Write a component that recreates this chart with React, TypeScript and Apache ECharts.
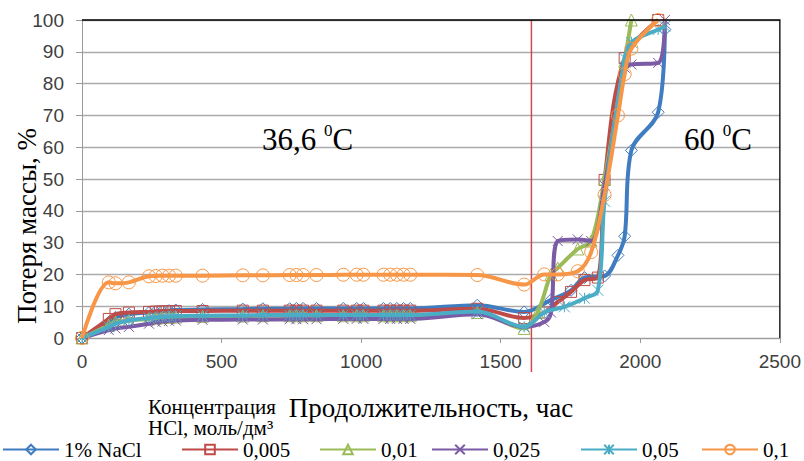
import React, { useEffect, useRef } from 'react';
import * as echarts from 'echarts';

// Shared measurement hours for the 36.6 °C stage
const earlyHours = [0, 96, 120, 168, 240, 264, 288, 312, 336, 432, 576, 648, 744, 768, 792, 840, 936, 984, 1008, 1080, 1104, 1128, 1152, 1176, 1416];

// 1% NaCl
const naclEarly = [0, 5, 6.5, 7.5, 8, 8.3, 8.5, 8.6, 8.8, 9, 9.1, 9.2, 9.2, 9.3, 9.3, 9.3, 9.3, 9.3, 9.3, 9.3, 9.3, 9.3, 9.3, 9.3, 10.3];
const naclLateHours = [1584, 1680, 1752, 1800, 1872, 1920, 1944, 1968, 2064, 2088];
const naclLate = [8.2, 12, 15, 19, 19.5, 26, 32, 59, 71, 97];

// 0,005
const c005Early = [0, 6, 7.5, 8, 8.2, 8.3, 8.4, 8.4, 8.5, 8.5, 8.6, 8.6, 8.6, 8.6, 8.6, 8.6, 8.6, 8.6, 8.6, 8.6, 8.6, 8.6, 8.6, 8.6, 9.2];
const c005LateHours = [1584, 1656, 1704, 1752, 1800, 1848, 1872, 1944, 2064];
const c005Late = [6.3, 8, 11.3, 14.5, 18.2, 19, 49.7, 88, 100];

// 0,01
const c01Early = [0, 4, 5, 5.5, 6, 6.2, 6.4, 6.5, 6.6, 6.8, 6.9, 7, 7, 7, 7, 7, 7, 7, 7, 7, 7, 7, 7, 7, 8];
const c01LateHours = [1584, 1632, 1680, 1704, 1776, 1824, 1872, 1944, 1968];
const c01Late = [3, 8, 20, 22, 28, 30.5, 50, 87, 100];

// 0,025
const c025Early = [0, 2.5, 3, 3.5, 4.5, 5, 5.2, 5.4, 5.5, 5.7, 5.8, 5.8, 5.9, 5.9, 5.9, 5.9, 6, 6, 6, 6, 6, 6, 6, 6, 7.5];
const c025LateHours = [1584, 1656, 1680, 1704, 1776, 1824, 1872, 1944, 1968, 2064, 2088];
const c025Late = [3.5, 5, 8, 30.5, 31, 30.5, 48, 85, 86, 86.5, 100];

// 0,05
const c05Early = [0, 3.5, 4.5, 5.5, 6.3, 6.5, 6.7, 6.8, 6.9, 7, 7.1, 7.2, 7.2, 7.2, 7.2, 7.2, 7.2, 7.2, 7.2, 7.2, 7.2, 7.2, 7.2, 7.2, 8.3];
const c05LateHours = [1584, 1656, 1728, 1800, 1848, 1872, 1944, 1968, 2064, 2088];
const c05Late = [3.5, 8, 9.8, 12.5, 15, 43, 88, 93, 97, 98];

// 0,1
const c1Early = [0, 17.5, 17.2, 17.5, 19.4, 19.5, 19.6, 19.6, 19.6, 19.6, 19.7, 19.7, 19.8, 19.8, 19.8, 19.8, 19.9, 19.9, 19.9, 19.9, 19.9, 19.9, 19.9, 19.9, 19.8];
const c1LateHours = [1584, 1656, 1704, 1776, 1824, 1872, 1920, 1944, 1968, 2064];
const c1Late = [16.8, 20, 20, 21, 27, 45, 70, 83, 91, 100];

const seriesNames = ['1% NaCl', '0,005', '0,01', '0,025', '0,05', '0,1'];
const xTicks = [0, 500, 1000, 1500, 2000, 2500];
const yTicks = [0, 10, 20, 30, 40, 50, 60, 70, 80, 90, 100];
const boundaryHour = 1610;

const SERIF = "'Liberation Serif', 'Times New Roman', serif";
const SANS = "'Liberation Sans', Arial, sans-serif";

const colors = ['#3F7CC0', '#BE4B48', '#9BBB59', '#7B5AA6', '#4BACC6', '#F79646'];
const symbols = [
  'diamond',
  'rect',
  'triangle',
  'path://M0,0L10,10M10,0L0,10',
  'path://M5,0L5,10M0,0L10,10M10,0L0,10',
  'circle',
];
const symbolSizes = [12, 11, 12, 10, 11, 13];

const zip = (hours: number[], values: number[]) => hours.map((h, i) => [h, values[i]]);

const seriesData = [
  zip(earlyHours.concat(naclLateHours), naclEarly.concat(naclLate)),
  zip(earlyHours.concat(c005LateHours), c005Early.concat(c005Late)),
  zip(earlyHours.concat(c01LateHours), c01Early.concat(c01Late)),
  zip(earlyHours.concat(c025LateHours), c025Early.concat(c025Late)),
  zip(earlyHours.concat(c05LateHours), c05Early.concat(c05Late)),
  zip(earlyHours.concat(c1LateHours), c1Early.concat(c1Late)),
];

const legendLefts = [2, 181, 319, 431, 580, 701];

export default function App() {
  const ref = useRef<HTMLDivElement>(null);
  useEffect(() => {
    const chart = echarts.init(ref.current!, null, { renderer: 'svg' });
    const option: any = {
      animation: false,
      backgroundColor: '#ffffff',
      grid: { left: 82, right: 22, top: 20, bottom: 123 },
      xAxis: {
        type: 'value',
        min: xTicks[0],
        max: xTicks[xTicks.length - 1],
        interval: 500,
        name: 'Продолжительность, час',
        nameLocation: 'middle',
        nameGap: 56,
        nameTextStyle: { fontFamily: SERIF, fontSize: 27, color: '#000' },
        axisLine: { show: true, lineStyle: { color: '#9A9A9A', width: 1 } },
        axisTick: { show: true, length: 5, lineStyle: { color: '#9A9A9A' } },
        axisLabel: {
          fontFamily: SANS,
          fontSize: 19,
          color: '#404040',
          margin: 14,
          formatter: (v: number) => String(v),
        },
        splitLine: { show: false },
      },
      yAxis: {
        type: 'value',
        min: yTicks[0],
        max: yTicks[yTicks.length - 1],
        interval: 10,
        axisLine: { show: true, lineStyle: { color: '#9A9A9A', width: 1 } },
        axisTick: { show: true, length: 6, lineStyle: { color: '#9A9A9A' } },
        axisLabel: {
          fontFamily: SANS,
          fontSize: 19,
          color: '#404040',
          margin: 18,
          formatter: (v: number) => String(v),
        },
        splitLine: { show: true, lineStyle: { color: '#ABABAB', width: 1.3 } },
      },
      legend: seriesNames.map((n, i) => ({
        data: [n],
        left: legendLefts[i],
        top: 439,
        padding: 0,
        itemWidth: 56,
        itemHeight: 12,
        itemGap: 0,
        textStyle: { fontFamily: SERIF, fontSize: 21, color: '#000' },
        selectedMode: false,
      })),
      series: seriesNames.map((n, i) => ({
        name: n,
        type: 'line',
        data: seriesData[i],
        smooth: 0.35,
        symbol: symbols[i],
        symbolSize: symbolSizes[i],
        showSymbol: true,
        color: colors[i],
        lineStyle: { color: colors[i], width: 4 },
        itemStyle: { color: 'rgba(255,255,255,0)', borderColor: colors[i], borderWidth: 1 },
        emphasis: { disabled: true },
        z: 2 + i,
      })),
    };
    chart.setOption(option);

    const topLeft = chart.convertToPixel({ gridIndex: 0 }, [xTicks[0], 100]) as number[];
    const topRight = chart.convertToPixel({ gridIndex: 0 }, [xTicks[xTicks.length - 1], 100]) as number[];
    const bottomRight = chart.convertToPixel({ gridIndex: 0 }, [xTicks[xTicks.length - 1], 0]) as number[];
    const bTop = chart.convertToPixel({ gridIndex: 0 }, [boundaryHour, 100]) as number[];
    const bBot = chart.convertToPixel({ gridIndex: 0 }, [boundaryHour, 0]) as number[];

    const rich = {
      a: { fontFamily: SERIF, fontSize: 31, lineHeight: 34, fill: '#000' },
      b: { fontFamily: SERIF, fontSize: 17, lineHeight: 34, verticalAlign: 'top', fill: '#000' },
    };

    chart.setOption({
      graphic: [
        {
          type: 'polyline',
          silent: true,
          z: 50,
          shape: { points: [topLeft, topRight, bottomRight] },
          style: { stroke: '#000', lineWidth: 1.3, fill: null },
        },
        {
          type: 'line',
          silent: true,
          z: 1,
          shape: { x1: bTop[0], y1: bTop[1], x2: bBot[0], y2: bBot[1] + 34 },
          style: { stroke: '#D0494C', lineWidth: 1.5 },
        },
        {
          type: 'text',
          silent: true,
          x: 27,
          y: 226,
          rotation: Math.PI / 2,
          style: {
            text: 'Потеря массы, %',
            fontFamily: SERIF,
            fontSize: 27,
            fill: '#000',
            align: 'center',
            verticalAlign: 'middle',
          },
        },
        {
          type: 'text',
          silent: true,
          x: 148,
          y: 396,
          style: {
            text: 'Концентрация\nHCl, моль/дм³',
            fontFamily: SERIF,
            fontSize: 21,
            lineHeight: 21,
            fill: '#000',
          },
        },
        {
          type: 'text',
          silent: true,
          x: 262,
          y: 122,
          z: 60,
          style: { text: '{a|36,6 }{b|0}{a|C}', rich },
        },
        {
          type: 'text',
          silent: true,
          x: 684,
          y: 122,
          z: 60,
          style: { text: '{a|60 }{b|0}{a|C}', rich },
        },
      ],
    });
    return () => chart.dispose();
  }, []);
  return <div ref={ref} style={{ width: 804, height: 461, position: 'absolute', left: 0, top: 0 }} />;
}
